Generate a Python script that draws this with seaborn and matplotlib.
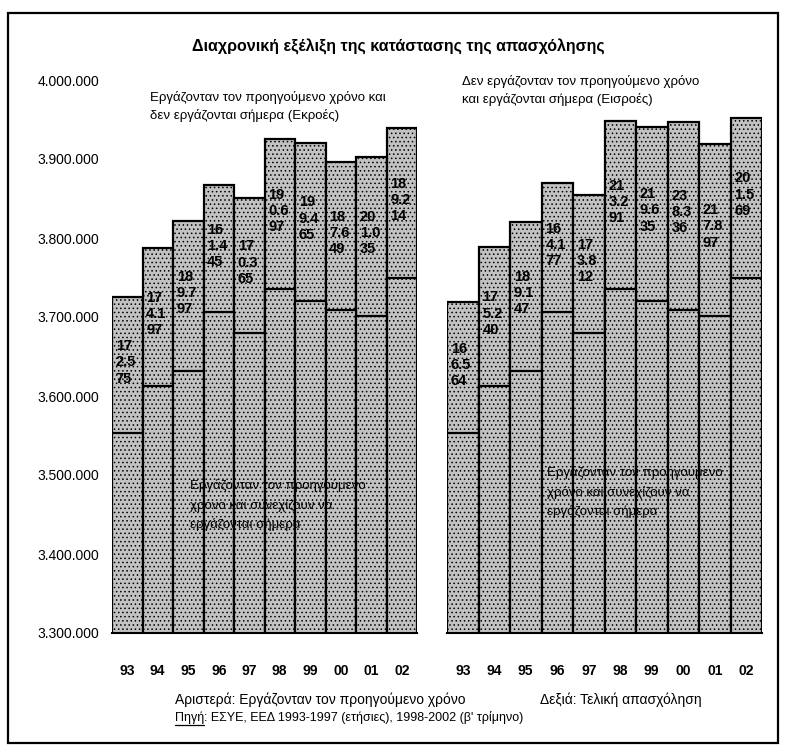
"""Recreates the Greek employment-flows chart (left: employed last year, right: employed now)."""
import matplotlib
matplotlib.use("Agg")
import matplotlib.pyplot as plt
import seaborn as sns
from matplotlib.patches import Rectangle
from matplotlib.lines import Line2D

# Data
years = ["93", "94", "95", "96", "97", "98", "99", "00", "01", "02"]
# worked last year and still work today
continuing = [3552700, 3613100, 3631700, 3705700, 3680200,
              3735000, 3720800, 3708600, 3701500, 3750000]
# worked last year, not working today (outflows)
outflows = [172575, 174197, 189797, 161445, 170365,
            190697, 199465, 187649, 201035, 189214]
# did not work last year, working today (inflows)
inflows = [166564, 175240, 189147, 164177, 173812,
           213291, 219635, 238336, 217897, 201569]
y_ticks = [3300000, 3400000, 3500000, 3600000, 3700000, 3800000, 3900000, 4000000]

W, H = 785, 754
BAR_FACE = "#c2c2c2"

sns.set_style("white")
plt.rcParams["font.family"] = ["Liberation Sans", "DejaVu Sans"]
plt.rcParams["hatch.linewidth"] = 0.6
for key in ["text.color", "axes.labelcolor", "xtick.color", "ytick.color"]:
    plt.rcParams[key] = "black"


def fx(x):
    return x / W


def fy(y):
    return 1 - y / H


def fmt_dots(v):
    return f"{v:,}".replace(",", ".")


def flow_label(v):
    # the numbers are squeezed into three lines inside each bar
    s = fmt_dots(v)
    return f"{s[:2]}\n{s[2:5]}\n{s[5:]}"


fig = plt.figure(figsize=(W / 100, H / 100), dpi=100)
fig.patch.set_facecolor("white")

ax_bottom = fy(633)
ax_height = (633 - 80) / H
ax_left = fig.add_axes([fx(112), ax_bottom, (417 - 112) / W, ax_height])
ax_right = fig.add_axes([fx(447), ax_bottom, (762 - 447) / W, ax_height])

for ax, flows in [(ax_left, outflows), (ax_right, inflows)]:
    totals = [c + f for c, f in zip(continuing, flows)]

    # Upper segment (flows) drawn as the full stack, lower segment on top of it
    sns.barplot(x=years, y=totals, ax=ax, color=BAR_FACE, saturation=1, width=1.0,
                edgecolor="black", linewidth=1.6, hatch="....")
    sns.barplot(x=years, y=continuing, ax=ax, color=BAR_FACE, saturation=1, width=1.0,
                edgecolor="black", linewidth=1.6, hatch="....")

    # Flow numbers inside the upper segments
    for i, (c, f) in enumerate(zip(continuing, flows)):
        ax.text(i - 0.38, c + f * 0.52, flow_label(f), ha="left", va="center",
                fontsize=10.5, fontweight="bold", linespacing=1.2)

    ax.set_xlim(-0.5, 9.5)
    ax.set_ylim(3300000, 4000000)
    ax.set_xlabel("")
    ax.set_ylabel("")
    for side in ["top", "right", "left"]:
        ax.spines[side].set_visible(False)
    ax.spines["bottom"].set_linewidth(1.5)
    ax.spines["bottom"].set_color("black")
    ax.tick_params(axis="x", length=0, pad=22, labelsize=10)
    for lbl in ax.get_xticklabels():
        lbl.set_fontweight("bold")

ax_left.set_yticks(y_ticks)
ax_left.set_yticklabels([fmt_dots(v) for v in y_ticks])
ax_left.tick_params(axis="y", length=0, pad=9, labelsize=10)
ax_right.set_yticks([])

# Title
fig.text(fx(398), fy(47), "Διαχρονική εξέλιξη της κατάστασης της απασχόλησης",
         ha="center", va="center", fontsize=11.5, fontweight="bold")

# Series descriptions
fig.text(fx(150), fy(107), "Εργάζονταν τον προηγούμενο χρόνο και\nδεν εργάζονται σήμερα (Εκροές)",
         ha="left", va="center", fontsize=9.5, linespacing=1.5)
fig.text(fx(462), fy(90), "Δεν εργάζονταν τον προηγούμενο χρόνο\nκαι εργάζονται σήμερα (Εισροές)",
         ha="left", va="center", fontsize=9.5, linespacing=1.5)
fig.text(fx(190), fy(505), "Εργάζονταν τον προηγούμενο\nχρόνο και συνεχίζουν να\nεργάζονται σήμερα",
         ha="left", va="center", fontsize=9.5, linespacing=1.65)
fig.text(fx(547), fy(492), "Εργάζονταν τον προηγούμενο\nχρόνο και συνεχίζουν να\nεργάζονται σήμερα",
         ha="left", va="center", fontsize=9.5, linespacing=1.65)

# Captions
fig.text(fx(175), fy(700), "Αριστερά: Εργάζονταν τον προηγούμενο χρόνο",
         ha="left", va="center", fontsize=10)
fig.text(fx(540), fy(700), "Δεξιά: Τελική απασχόληση",
         ha="left", va="center", fontsize=10)
src_word = fig.text(fx(175), fy(718), "Πηγή", ha="left", va="center", fontsize=9)
fig.canvas.draw()
bb = src_word.get_window_extent()
fig.text(bb.x1 / W, fy(718), ": ΕΣΥΕ, ΕΕΔ 1993-1997 (ετήσιες), 1998-2002 (β' τρίμηνο)",
         ha="left", va="center", fontsize=9)
fig.add_artist(Line2D([bb.x0 / W, bb.x1 / W], [bb.y0 / H - 0.001, bb.y0 / H - 0.001],
                      transform=fig.transFigure, color="black", linewidth=0.9))

# Outer frame
fig.add_artist(Rectangle((fx(8), fy(743)), (778 - 8) / W, (743 - 13) / H,
                         transform=fig.transFigure, fill=False, edgecolor="black", linewidth=1.6))

fig.savefig("out.png", dpi=100)
plt.close(fig)
